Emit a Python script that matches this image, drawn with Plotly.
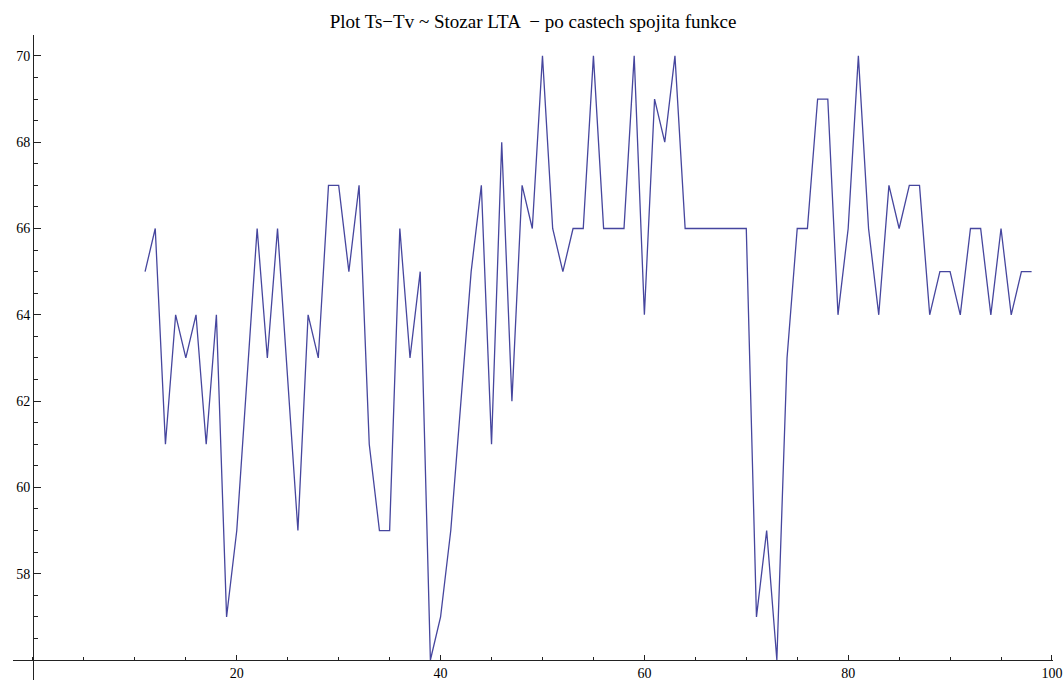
import plotly.graph_objects as go

# Ts - Tv readings along the mast (x = position index, y = temperature difference)
x_vals = [11, 12, 13, 14, 15, 16, 17, 18, 19, 20, 22, 23, 24, 26, 27, 28, 29, 30,
          31, 32, 33, 34, 35, 36, 37, 38, 39, 40, 41, 42, 43, 44, 45, 46, 47, 48,
          49, 50, 51, 52, 53, 54, 55, 56, 57, 58, 59, 60, 61, 62, 63, 64, 65, 66,
          67, 68, 69, 70, 71, 72, 73, 74, 75, 76, 77, 78, 79, 80, 81, 82, 83, 84,
          85, 86, 87, 88, 89, 90, 91, 92, 93, 94, 95, 96, 97, 98]
y_vals = [65, 66, 61, 64, 63, 64, 61, 64, 57, 59, 66, 63, 66, 59, 64, 63, 67, 67,
          65, 67, 61, 59, 59, 66, 63, 65, 56, 57, 59, 62, 65, 67, 61, 68, 62, 67,
          66, 70, 66, 65, 66, 66, 70, 66, 66, 66, 70, 64, 69, 68, 70, 66, 66, 66,
          66, 66, 66, 66, 57, 59, 56, 63, 66, 66, 69, 69, 64, 66, 70, 66, 64, 67,
          66, 67, 67, 64, 65, 65, 64, 66, 66, 64, 66, 64, 65, 65]

x_ticks = [20, 40, 60, 80, 100]
y_ticks = [58, 60, 62, 64, 66, 68, 70]

title_text = "Plot Ts\u2212Tv ~ Stozar LTA  \u2212 po castech spojita funkce"

x_range = [-1.96, 100.1]
y_range = [55.537, 70.484]
x_origin = 0.0
y_origin = 56.0

serif = "Liberation Serif, Times New Roman, serif"
axis_col = "#222222"

fig = go.Figure()
fig.add_trace(go.Scatter(
    x=x_vals, y=y_vals, mode="lines",
    line=dict(color="rgb(70,70,158)", width=1.3),
    hoverinfo="x+y", showlegend=False,
))

fig.update_layout(
    width=1064, height=686,
    margin=dict(l=13, r=11, t=35, b=6),
    paper_bgcolor="white", plot_bgcolor="white",
    title=dict(text=title_text, x=0.5, xref="paper", xanchor="center",
               y=1 - 21 / 686, yref="container", yanchor="middle",
               font=dict(family=serif, size=19, color="black")),
    xaxis=dict(
        range=x_range, showgrid=False, zeroline=False,
        anchor="free",
        position=(y_origin - y_range[0]) / (y_range[1] - y_range[0]),
        showline=True, linecolor=axis_col, linewidth=1,
        tickmode="array", tickvals=x_ticks, ticktext=[str(v) for v in x_ticks],
        ticks="inside", ticklen=5, tickwidth=1, tickcolor=axis_col,
        minor=dict(tickmode="linear", tick0=0, dtick=5, ticks="inside",
                   ticklen=3, tickwidth=1, tickcolor=axis_col, showgrid=False),
        tickfont=dict(family=serif, size=14, color="black"),
        automargin=False, fixedrange=True,
    ),
    yaxis=dict(
        range=y_range, showgrid=False, zeroline=False,
        anchor="free",
        position=(x_origin - x_range[0]) / (x_range[1] - x_range[0]),
        showline=True, linecolor=axis_col, linewidth=1,
        tickmode="array", tickvals=y_ticks, ticktext=[str(v) for v in y_ticks],
        ticks="inside", ticklen=7, tickwidth=1, tickcolor=axis_col,
        minor=dict(tickmode="linear", tick0=56, dtick=0.5, ticks="inside",
                   ticklen=4, tickwidth=1, tickcolor=axis_col, showgrid=False),
        tickfont=dict(family=serif, size=14, color="black"),
        automargin=False, fixedrange=True,
    ),
)

fig.write_html("out.html")
